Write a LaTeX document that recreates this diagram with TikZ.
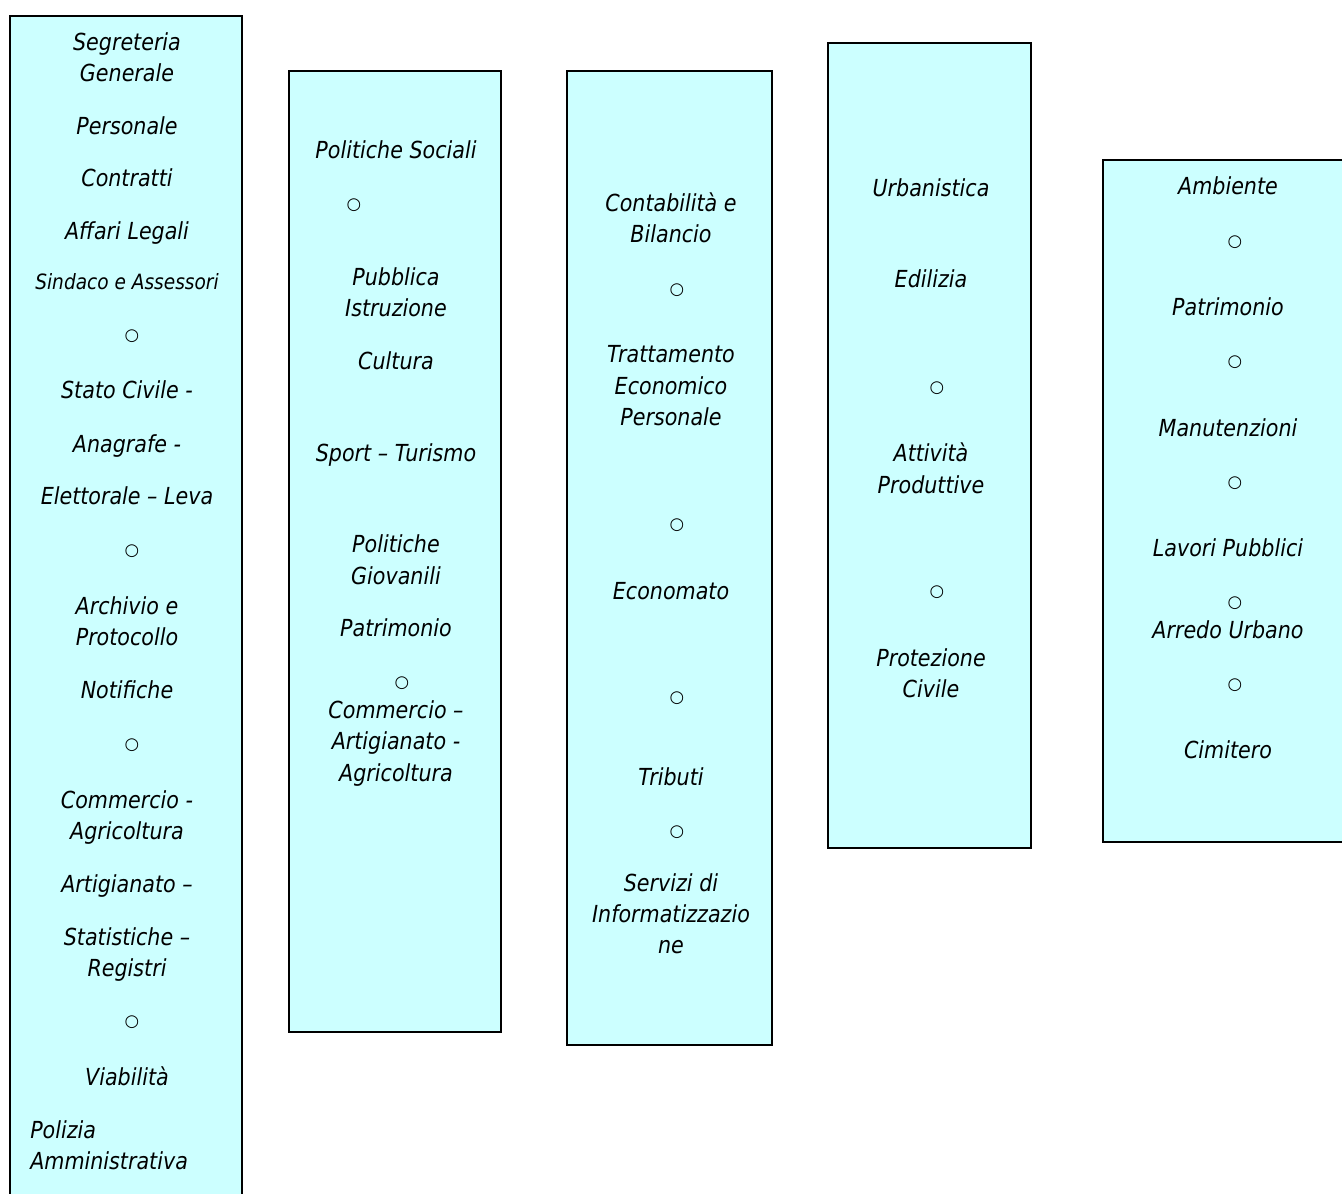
\documentclass[tikz,border=0pt]{standalone}
\usepackage{fontspec}
\setmainfont{DejaVu Sans}[FakeStretch=0.88]
\newfontfamily\symfont{DejaVu Sans}
\definecolor{boxfill}{HTML}{CCFFFF}
\begin{document}
\begin{tikzpicture}[x=0.75pt,y=-0.75pt,
  panel/.style={draw=black,line width=1.5pt,fill=boxfill},
  lbl/.style={anchor=base,inner sep=0pt,font=\fontsize{17.6}{20}\selectfont\itshape},
  small/.style={anchor=base,inner sep=0pt,font=\fontsize{15.8}{18}\selectfont\itshape},
  bul/.style={anchor=center,inner sep=0pt,font=\fontsize{12.5}{14}\selectfont\symfont}]
\useasboundingbox (0,0) rectangle (1342,1194);
\clip (0,0) rectangle (1342,1194);
\fill[white] (0,0) rectangle (1342,1194);
% panels
\path[panel] (10,16) rectangle (242,1210);
\path[panel] (289,71) rectangle (501,1032);
\path[panel] (567,71) rectangle (772,1045);
\path[panel] (828,43) rectangle (1031,848);
\path[panel] (1103,160) rectangle (1360,842);
% box 1
\foreach \t/\y [count=\i] in {Segreteria/51,Generale/82,Personale/135,Contratti/187,Affari Legali/240,
  Stato Civile -/399,Anagrafe -/452,Elettorale – Leva/504,Archivio e/614,Protocollo/645,Notifiche/698,
  Commercio -/808,Agricoltura/839,Artigianato –/892,Statistiche –/945,Registri/976,Viabilità/1085}
  \node[lbl] (a\i) at (127,\y) {\t};
\node[small] (asind) at (127,290) {Sindaco e Assessori};
\node[lbl,anchor=base west] (apol) at (30,1138) {Polizia};
\node[lbl,anchor=base west] (aamm) at (30,1169) {Amministrativa};
\foreach \y [count=\i] in {336,551,745,1022}
  \node[bul] (ao\i) at (132,\y) {○};
% box 2
\foreach \t/\y [count=\i] in {Politiche Sociali/159,Pubblica/286,Istruzione/317,Cultura/370,
  Sport – Turismo/461,Politiche/552,Giovanili/584,Patrimonio/636,Commercio –/718,Artigianato -/749,Agricoltura/781}
  \node[lbl] (b\i) at (396,\y) {\t};
\node[bul] (bo1) at (354,205) {○};
\node[bul] (bo2) at (402,683) {○};
% box 3
\foreach \t/\y [count=\i] in {Contabilità e/212,Bilancio/243,Trattamento/363,Economico/395,Personale/426,
  Economato/599,Tributi/785,Servizi di/891,Informatizzazio/922,ne/953}
  \node[lbl] (c\i) at (671,\y) {\t};
\foreach \y [count=\i] in {290,525,698,832}
  \node[bul] (co\i) at (677,\y) {○};
% box 4
\foreach \t/\y [count=\i] in {Urbanistica/197,Edilizia/288,Attività/461,Produttive/493,Protezione/666,Civile/697}
  \node[lbl] (d\i) at (931,\y) {\t};
\foreach \y [count=\i] in {388,592}
  \node[bul] (do\i) at (937,\y) {○};
% box 5
\foreach \t/\y [count=\i] in {Ambiente/195,Patrimonio/316,Manutenzioni/436,Lavori Pubblici/556,Arredo Urbano/638,Cimitero/758}
  \node[lbl] (e\i) at (1228,\y) {\t};
\foreach \y [count=\i] in {242,362,483,603,685}
  \node[bul] (eo\i) at (1235,\y) {○};
\end{tikzpicture}
\end{document}
